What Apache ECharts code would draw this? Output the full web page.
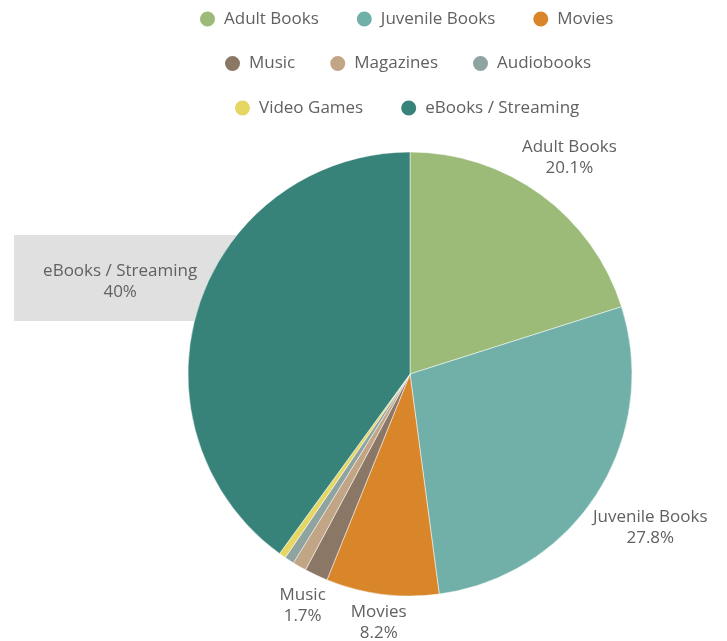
<!DOCTYPE html>
<html>
<head>
<meta charset="utf-8">
<script src="https://cdn.jsdelivr.net/npm/echarts@6/dist/echarts.min.js"></script>
<style>html,body{margin:0;padding:0;background:#fff;}#chart{width:727px;height:641px;}</style>
</head>
<body>
<div id="chart"></div>
<script>
const categories = ['Adult Books', 'Juvenile Books', 'Movies', 'Music', 'Magazines', 'Audiobooks', 'Video Games', 'eBooks / Streaming'];
const values = [20.1, 27.8, 8.2, 1.7, 1.0, 0.7, 0.5, 40];
const colors = ['#9cba78', '#70b0a9', '#d9852a', '#8b7765', '#c1a585', '#8fa3a0', '#e6d664', '#37837a'];
const showLabel = [true, true, true, true, false, false, false, true];
const legendRows = [[0, 1, 2], [3, 4, 5], [6, 7]];
const legendRowLeft = [198, 223, 233];

const CENTER = [410, 374];
const R = 222;
const GAP = 3;
const FONT = 'Open Sans';
const TEXT = '#616161';

const total = values.reduce((a, b) => a + b, 0);
const midAngles = [];
let acc = 0;
values.forEach(v => { midAngles.push((acc + v / 2) / total * 2 * Math.PI); acc += v; });

const chart = echarts.init(document.getElementById('chart'));

const legends = legendRows.map((row, k) => ({
  data: row.map(i => categories[i]),
  left: legendRowLeft[k],
  top: 9.5 + k * 44.5,
  padding: 0,
  icon: 'circle',
  itemWidth: 17,
  itemHeight: 17,
  itemGap: k === 1 ? 33 : 36,
  selectedMode: false,
  textStyle: { color: TEXT, fontSize: 17, fontFamily: FONT, padding: [0, 0, 0, 3] }
}));

chart.setOption({
  animation: false,
  legend: legends,
  graphic: [{
    type: 'rect', left: 14, top: 235, z: 0,
    shape: { width: 240, height: 86 },
    style: { fill: '#e0e0e0' }
  }],
  series: [{
    type: 'pie',
    center: CENTER,
    radius: R,
    startAngle: 90,
    clockwise: true,
    avoidLabelOverlap: false,
    itemStyle: { borderColor: '#ffffff', borderWidth: 0.5 },
    label: {
      show: true,
      position: 'outside',
      formatter: p => p.name + '\n' + values[p.dataIndex] + '%',
      color: TEXT,
      fontSize: 17,
      lineHeight: 21,
      fontFamily: FONT,
      align: 'center'
    },
    labelLine: { show: false },
    labelLayout: function (params) {
      const i = params.dataIndex;
      const a = midAngles[i];
      const ux = Math.sin(a), uy = -Math.cos(a);
      const w = params.labelRect.width, h = params.labelRect.height;
      const d = R + GAP + Math.abs(ux) * w / 2 + Math.abs(uy) * h / 2;
      return { x: CENTER[0] + ux * d, y: CENTER[1] + uy * d + 1.5, align: 'center', verticalAlign: 'middle' };
    },
    emphasis: { disabled: true },
    data: categories.map((c, i) => ({
      name: c,
      value: values[i],
      itemStyle: { color: colors[i] },
      label: { show: showLabel[i] }
    }))
  }]
});
</script>
</body>
</html>
